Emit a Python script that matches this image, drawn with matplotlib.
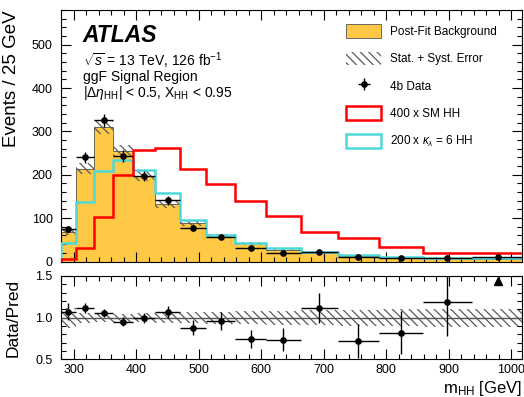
import numpy as np
import matplotlib
matplotlib.use('Agg')
import matplotlib.pyplot as plt
from matplotlib.patches import Patch
from matplotlib.ticker import MultipleLocator

plt.rcParams['font.family'] = ['Liberation Sans', 'DejaVu Sans']
plt.rcParams['mathtext.fontset'] = 'custom'
plt.rcParams['mathtext.rm'] = 'Liberation Sans'
plt.rcParams['mathtext.it'] = 'Liberation Sans:italic'
plt.rcParams['mathtext.bf'] = 'Liberation Sans:bold'
plt.rcParams['hatch.linewidth'] = 0.9

# m_HH binning [GeV]
bin_edges = [280, 304, 333, 363, 395, 431, 470, 512, 558, 608, 663, 723, 788, 858, 937, 1021]

background = [69, 214, 310, 255, 197, 132, 88, 60, 42, 27.5, 19, 13, 9, 7, 6]
bkg_rel_err = [0.12, 0.06, 0.05, 0.05, 0.055, 0.06, 0.065, 0.07, 0.08, 0.085, 0.09, 0.095, 0.10, 0.105, 0.11]
data = [74, 240, 326, 243, 197, 141, 77.5, 57.5, 31.5, 20.3, 21.3, 9.4, 7.4, 8.3, 11]
data_err = [7, 13, 15, 13, 12, 10, 8, 6.5, 4.5, 3.8, 3.4, 2.6, 2.3, 2.8, 3]
sm_hh_x400 = [5, 31, 102, 200, 257, 261, 213, 179, 139, 105, 69, 54, 34, 20, 19]
kl6_hh_x200 = [43, 138, 209, 234, 210, 157, 96, 62, 43, 30, 22.5, 15, 11, 9, 7.5]

bkg_color = '#FFC845'
red = '#FF0000'
cyan = '#4FD8D8'
hatch = '\\\\\\\\'
hatch_color = '#5a5a5a'

edges = np.array(bin_edges, dtype=float)
centers = 0.5 * (edges[1:] + edges[:-1])
widths = np.diff(edges)
bkg = np.array(background)
bkg_err = bkg * np.array(bkg_rel_err)
dat = np.array(data)
dat_err = np.array(data_err)

fig = plt.figure(figsize=(5.24, 3.97), dpi=100)
ax = fig.add_axes([0.1164, 0.3413, 0.8798, 0.6335])
rax = fig.add_axes([0.1164, 0.0945, 0.8798, 0.2103], sharex=ax)

# main panel
ax.stairs(bkg, edges, fill=True, color=bkg_color, zorder=1)
ax.stairs(bkg, edges, color='#555555', lw=0.6, baseline=None, zorder=2)
ax.bar(centers, 2 * bkg_err, bottom=bkg - bkg_err, width=widths, fill=False,
       hatch=hatch, edgecolor=hatch_color, linewidth=0, zorder=3)
ax.stairs(kl6_hh_x200, edges, color=cyan, lw=1.8, zorder=4)
ax.stairs(sm_hh_x400, edges, color=red, lw=1.8, zorder=5)
eb = ax.errorbar(centers, dat, yerr=dat_err, xerr=widths / 2, fmt='o', color='black',
                 ms=3.8, lw=1, capsize=0, zorder=6)

ax.set_xlim(280, 1017)
ax.set_ylim(0, 580)
ax.set_ylabel('Events / 25 GeV', fontsize=13.5, loc='top')
ax.yaxis.set_label_coords(-0.088, 1.0)

handles = [
    Patch(facecolor=bkg_color, edgecolor='#555555', lw=0.6),
    Patch(facecolor='none', edgecolor=hatch_color, hatch=hatch, lw=0),
    eb,
    Patch(facecolor='none', edgecolor=red, lw=1.8),
    Patch(facecolor='none', edgecolor=cyan, lw=1.8),
]
labels = ['Post-Fit Background', 'Stat. + Syst. Error', '4b Data', '400 x SM HH',
          r'200 x $\kappa_{\lambda}$ = 6 HH']
ax.legend(handles, labels, loc='upper left', bbox_to_anchor=(0.618, 0.943), frameon=False,
          fontsize=8.5, borderpad=0, borderaxespad=0, handlelength=3.0, handleheight=1.4,
          handletextpad=0.75, labelspacing=1.15)

fig.text(82 / 524, 1 - 35 / 397, 'ATLAS', fontsize=16.5, fontweight='bold', style='italic', va='center')
fig.text(83 / 524, 1 - 61 / 397, r'$\sqrt{s}$ = 13 TeV, 126 fb$^{-1}$', fontsize=10, va='center')
fig.text(83 / 524, 1 - 77 / 397, 'ggF Signal Region', fontsize=10, va='center')
fig.text(83 / 524, 1 - 93 / 397, r'|$\Delta\eta_{\mathrm{HH}}$| < 0.5, X$_{\mathrm{HH}}$ < 0.95',
         fontsize=10, va='center')

# ratio panel
ratio = dat / bkg
ratio_err = dat_err / bkg
rax.bar(centers, 2 * np.array(bkg_rel_err), bottom=1 - np.array(bkg_rel_err), width=widths,
        fill=False, hatch=hatch, edgecolor=hatch_color, linewidth=0, zorder=1)
rax.axhline(1.0, color='#555555', lw=1, zorder=2)
inside = ratio <= 1.5
rax.errorbar(centers[inside], ratio[inside], yerr=ratio_err[inside], xerr=widths[inside] / 2,
             fmt='o', color='black', ms=3.8, lw=1, capsize=0, zorder=3)
rax.plot(centers[~inside], np.full((~inside).sum(), 1.44), '^', color='black', ms=6, zorder=3)
rax.set_ylim(0.5, 1.5)
rax.set_yticks([0.5, 1.0, 1.5])
rax.set_ylabel('Data/Pred', fontsize=12.5)
rax.yaxis.set_label_coords(-0.088, 0.5)
rax.set_xlabel(r'm$_{\mathrm{HH}}$ [GeV]', fontsize=12, loc='right', labelpad=2)

for a in (ax, rax):
    a.xaxis.set_major_locator(MultipleLocator(100))
    a.xaxis.set_minor_locator(MultipleLocator(20))
    a.tick_params(which='both', direction='in', top=True, right=True, labelsize=9)
    a.tick_params(which='major', length=7, width=0.8)
    a.tick_params(which='minor', length=3.5, width=0.8)
    a.tick_params(axis='y', pad=6)
    for s in a.spines.values():
        s.set_linewidth(0.8)
ax.yaxis.set_major_locator(MultipleLocator(100))
ax.yaxis.set_minor_locator(MultipleLocator(20))
rax.yaxis.set_minor_locator(MultipleLocator(0.1))
ax.tick_params(labelbottom=False)

fig.savefig('out.png', dpi=100)
